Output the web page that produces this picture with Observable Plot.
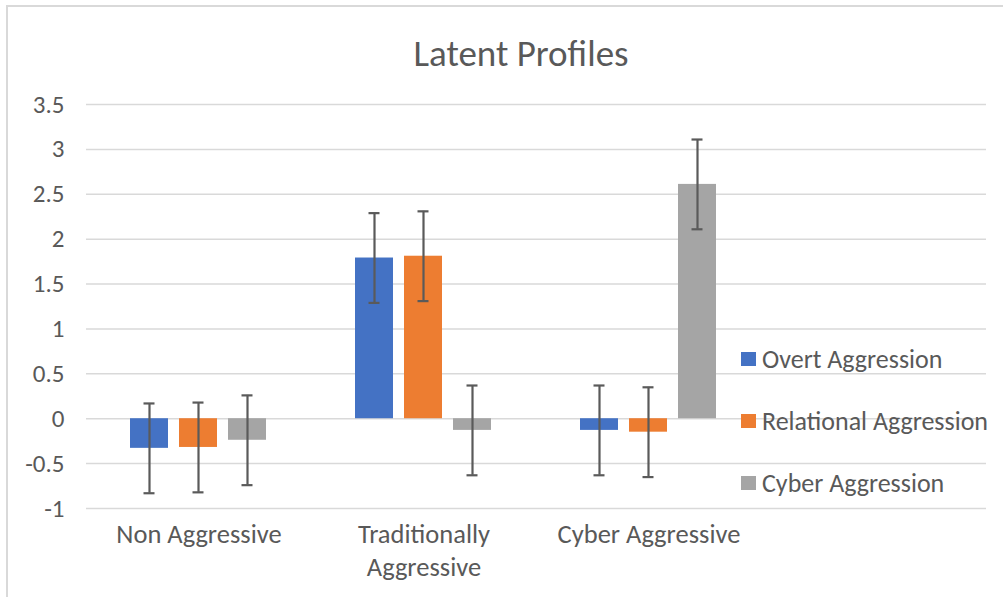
<!DOCTYPE html>
<html>
<head>
<meta charset="utf-8">
<script src="https://cdn.jsdelivr.net/npm/d3@7"></script>
<script src="https://cdn.jsdelivr.net/npm/@observablehq/plot@0.6"></script>
<style>
  html, body { margin: 0; padding: 0; background: #fff; overflow: hidden; }
  #wrap { position: relative; width: 1003px; height: 597px; font-family: Carlito, Calibri, Lato, "Open Sans", sans-serif; }
  #border { position: absolute; left: 6px; top: 5px; width: 1100px; height: 700px; border: 2px solid #d9d9d9; box-sizing: border-box; }
  #title { position: absolute; left: 0; width: 1042px; top: 31px; text-align: center; font-size: 37px; color: #595959; }
  #chart { position: absolute; left: 0; top: 0; }
  #legend { position: absolute; left: 741px; top: 343px; font-size: 26px; color: #595959; }
  .li { display: flex; align-items: center; height: 32px; margin-bottom: 30px; white-space: nowrap; }
  .sw { width: 15px; height: 14px; margin-right: 6px; flex: none; }
</style>
</head>
<body>
<div id="wrap">
  <div id="border"></div>
  <div id="title">Latent Profiles</div>
  <div id="chart"></div>
  <div id="legend"></div>
</div>
<script>
const categories = ["Non Aggressive", "Traditionally Aggressive", "Cyber Aggressive", ""];
const categoryLabels = ["Non Aggressive", "Traditionally\nAggressive", "Cyber Aggressive", ""];
const series = ["Overt Aggression", "Relational Aggression", "Cyber Aggression"];
const colors = ["#4472C4", "#ED7D31", "#A5A5A5"];
const overt = [-0.33, 1.79, -0.13];
const relational = [-0.32, 1.81, -0.15];
const cyber = [-0.24, -0.13, 2.61];
const errorAmount = [0.5, 0.5, 0.5];
const yTicks = [-1, -0.5, 0, 0.5, 1, 1.5, 2, 2.5, 3, 3.5];

const seriesValues = [overt, relational, cyber];
const data = [];
series.forEach((s, si) => {
  seriesValues[si].forEach((v, ci) => {
    data.push({category: categories[ci], series: s, value: v, err: errorAmount[si]});
  });
});
const gridData = yTicks.flatMap(v => categories.map(c => ({category: c, value: v})));

const font = "Carlito, Calibri, Lato, 'Open Sans', sans-serif";
const chart = Plot.plot({
  width: 1003,
  height: 597,
  marginTop: 104,
  marginBottom: 89,
  marginLeft: 84,
  marginRight: 16,
  style: {fontFamily: font, fontSize: "25px", color: "#595959", background: "transparent"},
  fx: {domain: categories, paddingInner: 0, paddingOuter: 0, label: null},
  x: {domain: series, paddingInner: 0.22, paddingOuter: 0.8675, axis: null},
  y: {domain: [-1, 3.5], ticks: yTicks, label: null},
  color: {domain: series, range: colors},
  marks: [
    Plot.ruleY(gridData, {fx: "category", y: "value", stroke: "#d9d9d9", strokeWidth: 1.5}),
    Plot.axisY(yTicks, {tickSize: 0, tickPadding: 22, fontSize: 25, fill: "#595959", tickFormat: d => String(d)}),
    Plot.axisFx({anchor: "bottom", tickSize: 0, tickPadding: 11, fontSize: 26.5, fill: "#595959", lineHeight: 1.24, textAnchor: "middle", lineAnchor: "top",
      tickFormat: d => categoryLabels[categories.indexOf(d)]}),
    Plot.barY(data, {fx: "category", x: "series", y: "value", fill: "series"}),
    Plot.ruleX(data, {fx: "category", x: "series", y1: d => d.value - d.err, y2: d => d.value + d.err, stroke: "#5a5a5a", strokeWidth: 2.2}),
    Plot.tickY(data, {fx: "category", x: "series", y: d => d.value + d.err, stroke: "#5a5a5a", strokeWidth: 2.2, insetLeft: 13.5, insetRight: 13.5}),
    Plot.tickY(data, {fx: "category", x: "series", y: d => d.value - d.err, stroke: "#5a5a5a", strokeWidth: 2.2, insetLeft: 13.5, insetRight: 13.5})
  ]
});
document.getElementById("chart").appendChild(chart);

const legend = document.getElementById("legend");
series.forEach((s, i) => {
  const row = document.createElement("div");
  row.className = "li";
  row.innerHTML = `<span class="sw" style="background:${colors[i]}"></span><span>${s}</span>`;
  legend.appendChild(row);
});
</script>
</body>
</html>
